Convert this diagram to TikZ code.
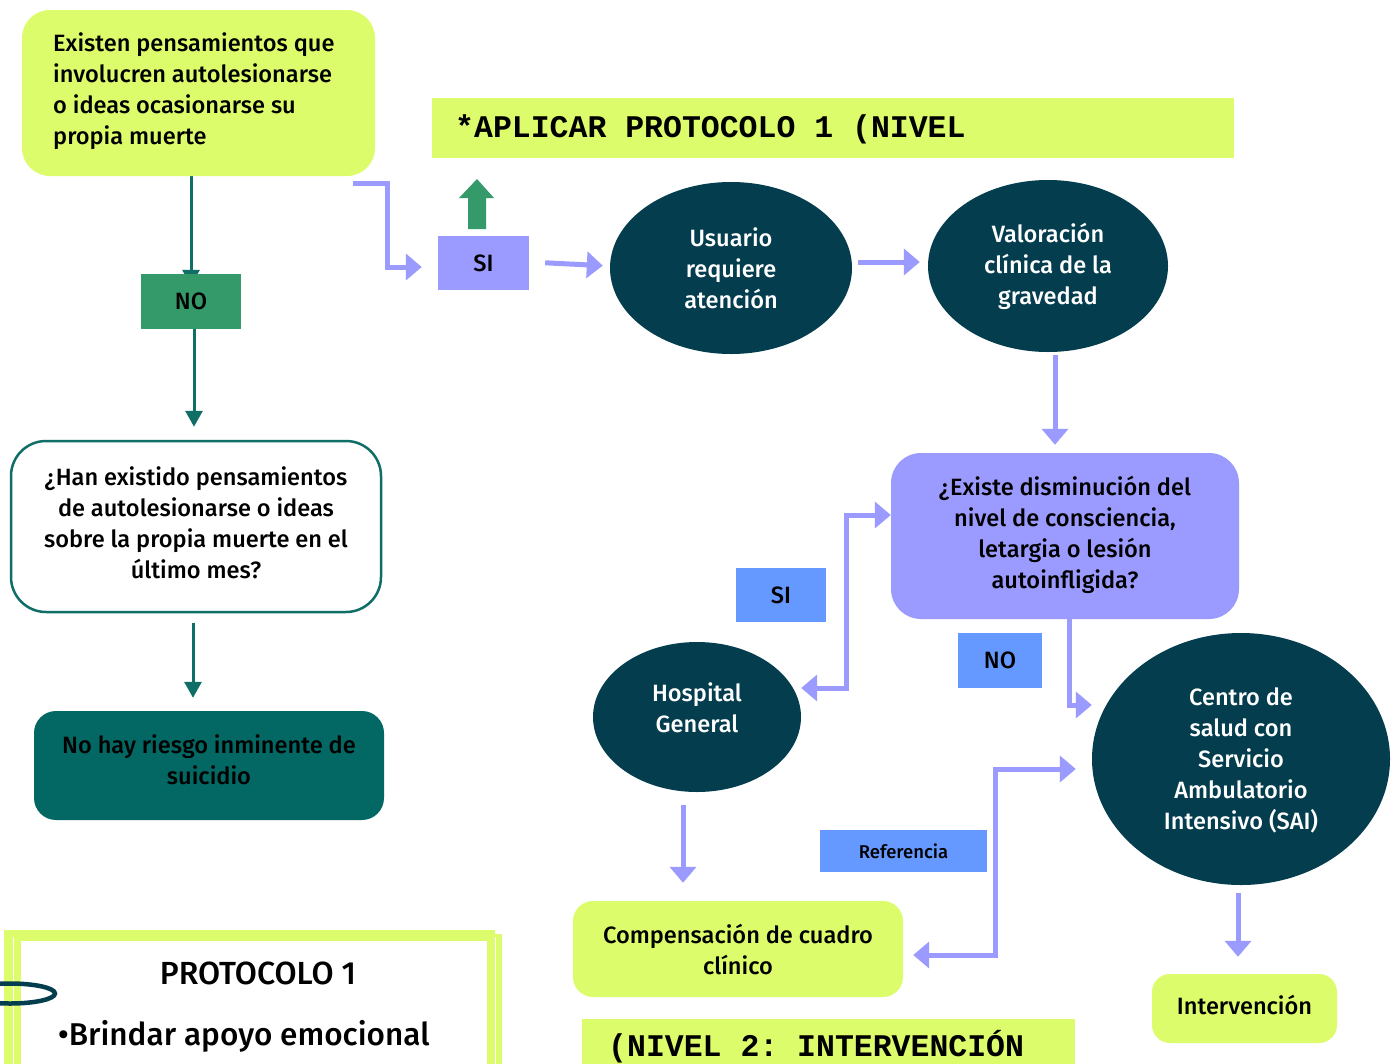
\documentclass[tikz,border=0pt]{standalone}
\usepackage{fontspec}
\setmainfont{Fira Sans}[UprightFont={* Medium}]
\setmonofont{Liberation Mono}
\usetikzlibrary{shapes.geometric,arrows.meta,backgrounds}
\definecolor{lime}{HTML}{DDFC6B}
\definecolor{lav}{HTML}{9B9BFF}
\definecolor{bluebox}{HTML}{6699FF}
\definecolor{navy}{HTML}{033D4E}
\definecolor{tealc}{HTML}{036863}
\definecolor{tealline}{HTML}{0F6E66}
\definecolor{greenbox}{HTML}{359A6A}
\newcommand\fsA{\fontsize{23.6}{31}\selectfont}
\newcommand\fsRef{\fontsize{18.5}{22}\selectfont}
\newcommand\fsMono{\fontsize{31.5}{36}\selectfont\ttfamily\bfseries}
\tikzset{
  rbox/.style={rounded corners=#1, inner sep=0pt, align=center, font=\fsA, text=black},
  sqbox/.style={inner sep=0pt, align=center, font=\fsA, text=black},
  oval/.style={ellipse, fill=navy, inner sep=0pt, align=center, font=\fsA, text=white},
  lbl/.style={inner sep=0pt, align=center, font=\fsA},
  tealarr/.style={draw=tealline, line width=3pt, -{Triangle[length=16pt,width=17pt]}},
  lavarr/.style={draw=lav, line width=5pt, -{Triangle[length=16pt,width=26pt]}},
  lavdbl/.style={draw=lav, line width=5pt, {Triangle[length=16pt,width=26pt]}-{Triangle[length=16pt,width=26pt]}},
}
\begin{document}
\begin{tikzpicture}[x=1pt,y=-1pt]
\useasboundingbox (0,0) rectangle (1399,1063);

% banners
\node[fill=lime, minimum width=802pt, minimum height=60pt, inner sep=0pt] (ban1) at (833,128) {};
\node[anchor=base west, inner sep=0pt, font=\fsMono] (ban1t) at (455,137) {*APLICAR PROTOCOLO 1 (NIVEL};
\fill[lime] (582,1019) rectangle (1075,1080);
\node[anchor=base west, inner sep=0pt, font=\fsMono] (ban2t) at (608,1056) {(NIVEL 2: INTERVENCIÓN};

% left column
\node[rbox=28pt, fill=lime, minimum width=353pt, minimum height=166pt] (top) at (198.5,93) {};
\node[lbl, anchor=west, align=left] (topt) at (53,91.5) {Existen pensamientos que\\involucren autolesionarse\\o ideas ocasionarse su\\propia muerte};
\node[sqbox, fill=greenbox, minimum width=100pt, minimum height=55pt] (no1) at (191,301.5) {NO};
\node[rbox=35pt, draw=tealline, line width=2.5pt, fill=white, minimum width=370pt, minimum height=171pt] (q1) at (196,526.5) {};
\node[lbl] (q1t) at (196,522.5) {¿Han existido pensamientos\\de autolesionarse o ideas\\sobre la propia muerte en el\\último mes?};
\node[rbox=22pt, fill=tealc, minimum width=350pt, minimum height=109pt] (risk) at (209,765.5) {};
\node[lbl] (riskt) at (209,760) {No hay riesgo inminente de\\suicidio};

% SI top and green arrow
\node[sqbox, fill=lav, minimum width=91pt, minimum height=54pt] (si1) at (483.5,263) {SI};
\fill[greenbox] (468,229) -- (468,198) -- (459,198) -- (477,179) -- (494,198) -- (486,198) -- (486,229) -- cycle;

% ellipses
\node[oval, minimum width=242pt, minimum height=172pt] (usr) at (731,268) {Usuario\\requiere\\atención};
\node[oval, minimum width=240pt, minimum height=172pt] (val) at (1048,266) {Valoración\\clínica de la\\gravedad};
\node[rbox=30pt, fill=lav, minimum width=348pt, minimum height=166pt] (q2) at (1065,536) {};
\node[lbl] (q2t) at (1065,535) {¿Existe disminución del\\nivel de consciencia,\\letargia o lesión\\autoinfligida?};
\node[sqbox, fill=bluebox, minimum width=90pt, minimum height=54pt] (si2) at (781,595) {SI};
\node[sqbox, fill=bluebox, minimum width=84pt, minimum height=55pt] (no2) at (1000,660.5) {NO};
\node[oval, minimum width=208pt, minimum height=150pt] (hosp) at (697,717) {};
\node[lbl, text=white] (hospt) at (697,707.5) {Hospital\\General};
\node[oval, minimum width=298pt, minimum height=252pt] (sai) at (1241,759) {};
\node[lbl, text=white] (sait) at (1241,760) {Centro de\\salud con\\Servicio\\Ambulatorio\\Intensivo (SAI)};
\node[rbox=20pt, fill=lime, minimum width=330pt, minimum height=96pt] (comp) at (738,949) {Compensación de cuadro\\clínico};
\node[sqbox, fill=bluebox, minimum width=167pt, minimum height=42pt, font=\fsRef] (ref) at (903.5,851) {Referencia};
\node[rbox=18pt, fill=lime, minimum width=185pt, minimum height=69pt] (interv) at (1244.5,1008.5) {};
\node[lbl] (intervt) at (1244.5,1005) {Intervención};

% protocolo box
\fill[lime] (4,930) rectangle (495,1075);
\fill[lime] (487,934) rectangle (502,1075);
\fill[white] (21,941) rectangle (487,1075);
\draw[white, line width=1pt] (13,937) -- (13,1075);
\draw[white, line width=1pt] (495,937) -- (495,1075);
\draw[navy, line width=4.5pt] (10,993.5) ellipse [x radius=45pt, y radius=10pt];
\node[inner sep=0pt, font=\fontsize{32}{36}\selectfont] (prot) at (258,973) {PROTOCOLO 1};
\node[anchor=west, inner sep=0pt, font=\fontsize{31.5}{36}\selectfont] (bri) at (58,1036) {\textbullet Brindar apoyo emocional};

% teal arrows
\begin{pgfonlayer}{background}
\fill[white] (0,0) rectangle (1399,1063);
\draw[tealarr, shorten >=-12pt] (top.south -| no1.north) -- (no1.north);
\end{pgfonlayer}
\draw[tealarr, shorten >=13pt] ([xshift=3pt]no1.south) -- ([xshift=3pt]no1.south |- q1.north);
\coordinate (q1b) at ([xshift=-3pt]q1.south);
\draw[tealarr, shorten <=10pt, shorten >=13pt] (q1b) -- (q1b |- risk.north);

% lavender arrows
\draw[lavarr] ([xshift=-22pt,yshift=-7pt]top.south east) -- ++(34,0) |- ([xshift=-16pt,yshift=-4pt]si1.west);
\draw[lavarr, shorten <=16pt, shorten >=7pt] ([yshift=1pt]si1.east) -- ([yshift=2pt]usr.west);
\draw[lavarr, shorten <=6pt, shorten >=8pt] ([yshift=6pt]usr.east) -- ([yshift=4pt]val.west);
\coordinate (valb) at ([xshift=7pt]val.south);
\draw[lavarr, shorten <=3pt, shorten >=8pt] (valb) -- (valb |- q2.north);
\draw[lavdbl] ([yshift=29pt]hosp.east) -- ++(45,0) |- ([yshift=21pt]q2.west);
\draw[lavarr] ([xshift=4pt]q2.south) |- ([yshift=54pt]sai.west);
\coordinate (hb) at ([xshift=-14pt]hosp.south);
\draw[lavarr, shorten <=13pt, shorten >=18pt] (hb) -- (hb |- comp.north);
\draw[lavdbl] ([xshift=10pt,yshift=-6pt]comp.east) -- ++(82,0) |- ([xshift=-16pt,yshift=-10pt]sai.west);
\coordinate (sb) at ([xshift=-3pt]sai.south);
\draw[lavarr, shorten <=8pt, shorten >=17pt] (sb) -- (sb |- interv.north);
\end{tikzpicture}
\end{document}
